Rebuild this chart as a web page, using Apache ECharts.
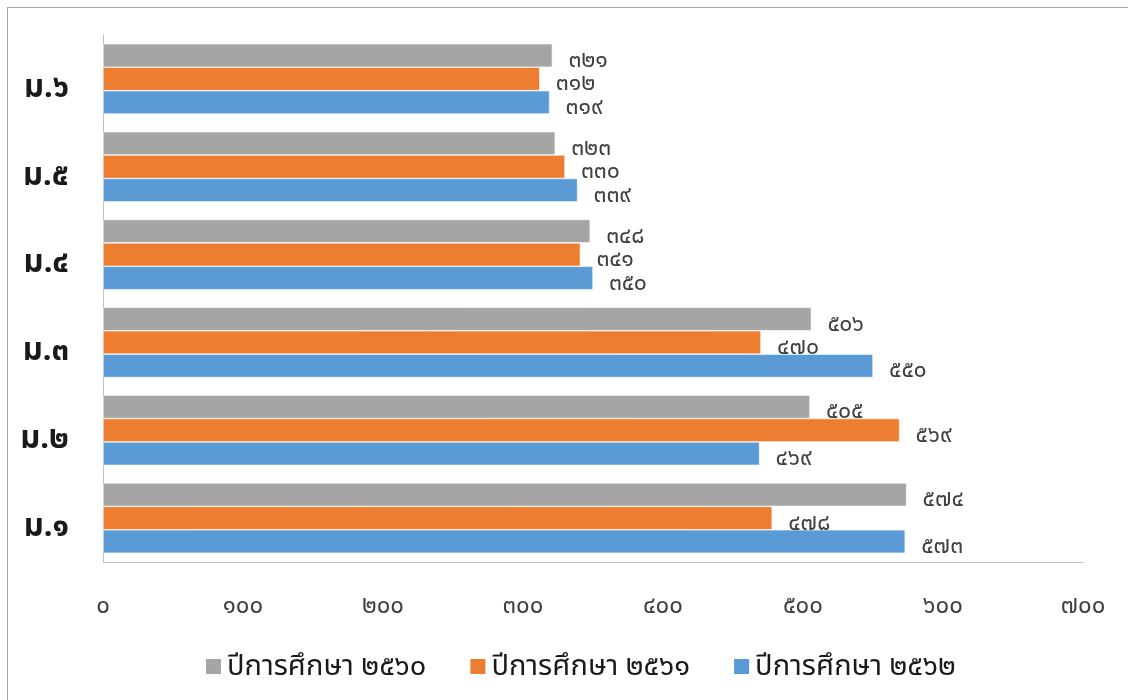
<!DOCTYPE html>
<html><head><meta charset="utf-8">
<script src="https://cdn.jsdelivr.net/npm/echarts@6/dist/echarts.min.js"></script>
<style>
html,body{margin:0;padding:0;background:#fff;}
#frame{position:absolute;left:7px;top:7px;width:1130px;height:700px;border:1px solid #a6a6a6;box-sizing:border-box;}
#c{position:absolute;left:0;top:0;width:1128px;height:700px;}
</style></head>
<body><div id="frame"></div><div id="c"></div>
<script>
const categories = ['ม.๑','ม.๒','ม.๓','ม.๔','ม.๕','ม.๖'];
const seriesNames = ['ปีการศึกษา ๒๕๖๐','ปีการศึกษา ๒๕๖๑','ปีการศึกษา ๒๕๖๒'];
const y2560 = [574, 505, 506, 348, 323, 321];
const y2561 = [478, 569, 470, 341, 330, 312];
const y2562 = [573, 469, 550, 350, 339, 319];
const colors = ['#a5a5a5','#ed7d31','#5b9bd5'];

const thaiDigits = '๐๑๒๓๔๕๖๗๘๙';
function toThai(v){ return String(v).replace(/[0-9]/g, d => thaiDigits[+d]); }
const FONT = "'Noto Sans', 'Noto Sans Thai', sans-serif";

function mk(name, data, color){
  return {
    name, type:'bar', data,
    barGap:'0%', barCategoryGap:'20%',
    itemStyle:{color, borderColor:'#ffffff', borderWidth:0.6},
    label:{show:true, position:'right', distance:16, offset:[0,5],
      color:'#404040', fontSize:23, fontFamily:FONT,
      formatter:p=>toThai(p.value)}
  };
}
const chart = echarts.init(document.getElementById('c'));
chart.setOption({
  animation:false,
  grid:{left:103, right:45, top:35, bottom:138, containLabel:false},
  legend:{
    data:seriesNames, bottom:14, left:199, itemWidth:17, itemHeight:17, itemGap:42,
    icon:'rect',
    textStyle:{fontSize:29, color:'#1a1a1a', fontFamily:FONT}
  },
  xAxis:{type:'value', min:0, max:700, interval:100,
    axisLine:{show:true, lineStyle:{color:'#bfbfbf', width:1}}, axisTick:{show:false}, splitLine:{show:false},
    axisLabel:{margin:32, fontSize:24, color:'#404040', fontFamily:FONT, formatter:v=>toThai(v)}
  },
  yAxis:{type:'category', data:categories,
    axisLine:{show:true, lineStyle:{color:'#bfbfbf', width:1}}, axisTick:{show:false},
    axisLabel:{margin:34, fontSize:31, fontWeight:'bold', color:'#1a1a1a', fontFamily:FONT,
      verticalAlign:'top', lineHeight:18}
  },
  series:[
    mk(seriesNames[0], y2560, colors[0]),
    mk(seriesNames[1], y2561, colors[1]),
    mk(seriesNames[2], y2562, colors[2])
  ]
});
</script></body></html>
